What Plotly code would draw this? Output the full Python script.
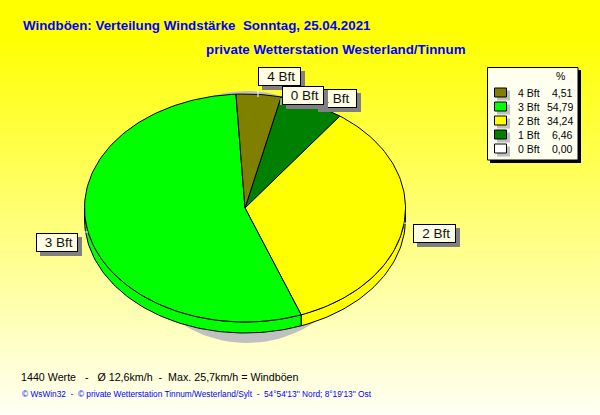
import math
import plotly.graph_objects as go

# ---- data
categories = ["0 Bft", "1 Bft", "2 Bft", "3 Bft", "4 Bft"]
shares = [0.00, 6.46, 34.24, 54.79, 4.51]
share_labels = ["0,00", "6,46", "34,24", "54,79", "4,51"]
colors = ["#FFFFFF", "#008000", "#FFFF00", "#00FF00", "#808000"]
legend_order = [4, 3, 2, 1, 0]

title_1 = "Windböen: Verteilung Windstärke\u00a0\u00a0Sonntag, 25.04.2021"
title_2 = "private Wetterstation Westerland/Tinnum"
footer_1 = "1440 Werte\u00a0\u00a0\u00a0-\u00a0\u00a0\u00a0Ø 12,6km/h\u00a0\u00a0-\u00a0\u00a0Max. 25,7km/h = Windböen"
footer_2 = "© WsWin32\u00a0\u00a0-\u00a0\u00a0© private Wetterstation Tinnum/Westerland/Sylt\u00a0\u00a0-\u00a0\u00a054°54'13'' Nord; 8°19'13'' Ost"

# ---- geometry of the tilted pie (pixel-like axis units)
W, H = 600, 415
CX, CY, A, B, DEPTH = 245, 208, 160.5, 114, 11
START = 13.0
FONT = "Liberation Sans"


def point(t, dy=0.0):
    r = math.radians(t)
    return CX + A * math.sin(r), CY - B * math.cos(r) + dy


def arc(t0, t1, dy=0.0, step=1.5):
    n = max(2, int(abs(t1 - t0) / step) + 1)
    return [point(t0 + (t1 - t0) * i / (n - 1), dy) for i in range(n)]


fig = go.Figure()

# background gradient
rows = list(range(0, H + 1, 1))
fig.add_trace(go.Heatmap(
    x=[0, W], y=rows, z=[[r, r] for r in rows], zmin=0, zmax=H,
    colorscale=[[0, "rgb(255,255,0)"], [0.08, "rgb(255,255,0)"], [1, "rgb(255,255,245)"]],
    showscale=False, hoverinfo="skip",
))

# grey shadow
sh = [(247 + 123 * math.sin(math.radians(a)), 217 + 126 * math.cos(math.radians(a))) for a in range(0, 361, 3)]
fig.add_trace(go.Scatter(x=[p[0] for p in sh], y=[p[1] for p in sh], mode="lines", fill="toself",
                         fillcolor="#C0C0C0", line=dict(width=0), hoverinfo="skip"))

# slices
spans = []
t = START
for s in shares:
    spans.append((t, t + s * 3.6))
    t += s * 3.6

for (t0, t1), col in zip(spans, colors):
    lo, hi = max(t0, 90), min(t1, 270)
    if hi > lo:
        pts = arc(lo, hi, DEPTH) + arc(hi, lo, 0)
        pts.append(pts[0])
        fig.add_trace(go.Scatter(x=[p[0] for p in pts], y=[p[1] for p in pts], mode="lines", fill="toself",
                                 fillcolor=col, line=dict(color="black", width=1), hoverinfo="skip"))
for (t0, t1), col, s in zip(spans, colors, shares):
    if s <= 0:
        continue
    pts = [(CX, CY)] + arc(t0, t1) + [(CX, CY)]
    fig.add_trace(go.Scatter(x=[p[0] for p in pts], y=[p[1] for p in pts], mode="lines", fill="toself",
                             fillcolor=col, line=dict(color="black", width=1), hoverinfo="skip"))

annotations = []
shapes = []


def text(x, y, s, size, color="black", bold=False, anchor="left"):
    annotations.append(dict(x=x, y=y, xref="x", yref="y", text=f"<b>{s}</b>" if bold else s, showarrow=False,
                            xanchor=anchor, yanchor="middle", font=dict(family=FONT, size=size, color=color)))


def box_annotation(x0, y0, x1, y1, s, fill, border=None):
    annotations.append(dict(x=x0, y=y0, xref="x", yref="y", text=s, showarrow=False, xanchor="left", yanchor="top",
                            width=x1 - x0 - 2, height=y1 - y0 - 2,
                            align="center", valign="middle", bgcolor=fill, borderpad=0,
                            bordercolor=border or fill, borderwidth=1,
                            font=dict(family=FONT, size=13.5, color="#111111")))


# callouts: white leader lines
for x0, y0, x1, y1 in [(258, 87, 258, 97), (281, 98, 281, 105), (404, 223, 413, 224), (78, 232, 88, 232)]:
    shapes.append(dict(type="line", xref="x", yref="y", x0=x0, y0=y0, x1=x1, y1=y1, line=dict(color="white", width=1)))

# callouts drawn in the reference's stacking order
label_boxes = {"3 Bft": (36, 233, 78, 252), "2 Bft": (413, 224, 456, 243), "4 Bft": (258, 67, 301, 86),
               "1 Bft": (314, 89, 357, 108), "0 Bft": (282, 86, 324, 105)}
for name, (x0, y0, x1, y1) in label_boxes.items():
    box_annotation(x0 + 4, y0 + 4, x1 + 4, y1 + 4, "\u00a0", "#808080")
    label = name if name == "1 Bft" else "\u00a0" + name
    box_annotation(x0, y0, x1, y1, label, "#FFFFE6", "black")

# legend panel
shapes.append(dict(type="rect", xref="x", yref="y", x0=490, y0=70, x1=581, y1=163, fillcolor="black", line=dict(width=0)))
shapes.append(dict(type="rect", xref="x", yref="y", x0=487.5, y0=67.5, x1=578, y1=160, fillcolor="#FFFFF0", line=dict(color="black", width=1)))
text(560, 76, "%", 10.5, anchor="center")
row_y = [92.5, 106.5, 120.5, 134.5, 148.5]
for y, idx in zip(row_y, legend_order):
    shapes.append(dict(type="rect", xref="x", yref="y", x0=497, y0=y - 2, x1=510, y1=y + 8, fillcolor="#C0C0C0", line=dict(width=0)))
    shapes.append(dict(type="rect", xref="x", yref="y", x0=494.5, y0=y - 4.5, x1=506.5, y1=y + 4.5, fillcolor=colors[idx], line=dict(color="black", width=1)))
    text(515.5, y, categories[idx], 10.5)
    text(575, y, share_labels[idx], 10.5, anchor="right")

# titles and footers
text(21, 25, title_1, 13.35, color="#0000FF", bold=True)
text(204, 49, title_2, 13.35, color="#0000FF", bold=True)
text(19, 377, footer_1, 10.7)
text(20, 394, footer_2, 8.3, color="#0000FF")

fig.update_layout(
    width=W, height=H, margin=dict(l=0, r=0, t=0, b=0), showlegend=False,
    paper_bgcolor="#FFFF80", plot_bgcolor="#FFFF80",
    xaxis=dict(range=[0, W], visible=False, fixedrange=True),
    yaxis=dict(range=[H, 0], visible=False, fixedrange=True),
    shapes=shapes, annotations=annotations,
)
fig.write_html("out.html", config=dict(displayModeBar=False),
               post_script="document.body.style.margin='0';")
